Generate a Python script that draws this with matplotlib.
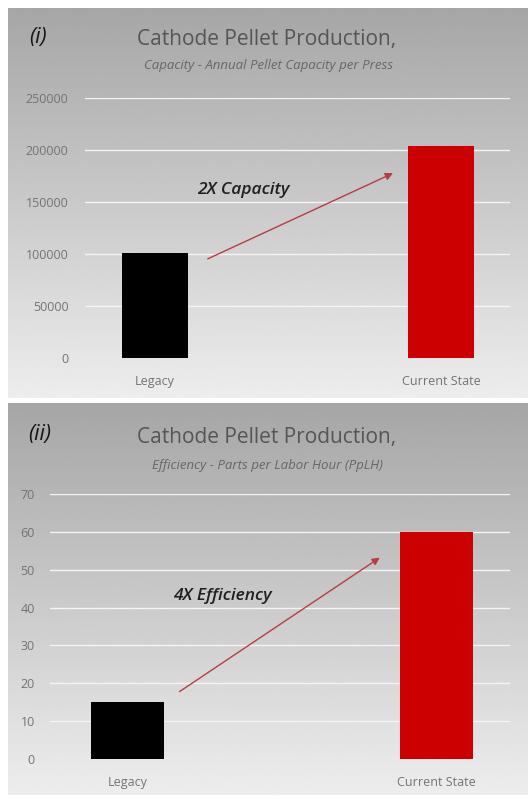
import numpy as np
import matplotlib
matplotlib.use("Agg")
import matplotlib.pyplot as plt

plt.rcParams['font.family'] = ['Open Sans', 'DejaVu Sans']

categories = ["Legacy", "Current State"]
capacity = [101000, 204000]
efficiency = [15, 60]
capacity_ticks = [0, 50000, 100000, 150000, 200000, 250000]
efficiency_ticks = [0, 10, 20, 30, 40, 50, 60, 70]
bar_colors = ["#000000", "#cc0000"]

W, H = 528, 800
fig = plt.figure(figsize=(W / 100, H / 100), dpi=100)
fig.patch.set_facecolor("white")


def fx(px):
    return px / W


def fy(py):
    return 1 - py / H


def panel_bg(top, bottom):
    bg = fig.add_axes([fx(8), fy(bottom), 1 - fx(8), fy(top) - fy(bottom)])
    grad = np.linspace(0.65, 0.93, 200).reshape(-1, 1)
    bg.imshow(grad, cmap="gray", vmin=0, vmax=1, aspect="auto",
              extent=[0, 1, 0, 1], origin="upper")
    bg.set_axis_off()
    return bg


def chart(rect, values, ticks, ylim, xlim, width, ypad):
    ax = fig.add_axes(rect)
    ax.set_facecolor("none")
    x = np.arange(len(categories))
    ax.bar(x, values, width=width, color=bar_colors, zorder=3)
    ax.set_xlim(*xlim)
    ax.set_ylim(*ylim)
    ax.set_yticks(ticks)
    ax.set_xticks(x)
    ax.set_xticklabels(categories)
    ax.yaxis.grid(True, color="#f4f4f4", linewidth=1.0, zorder=0)
    for s in ax.spines.values():
        s.set_visible(False)
    ax.tick_params(length=0, labelsize=9, labelcolor="#737373")
    ax.tick_params(axis="y", pad=ypad)
    ax.tick_params(axis="x", pad=12)
    return ax


arrow_style = dict(arrowstyle="-|>", color="#b83c44", lw=1.0, mutation_scale=11)

# panel (i)
panel_bg(8, 398)
ax1 = chart([fx(85), fy(358), fx(510) - fx(85), fy(98) - fy(358)],
            capacity, capacity_ticks, (0, 250000), (-0.245, 1.24), 0.23, 12)
fig.text(fx(38), fy(38), "(i)", fontsize=15.5, style="italic", color="#141414",
         ha="center", va="center")
fig.text(fx(267), fy(39), "Cathode Pellet Production,", fontsize=15,
         color="#555555", ha="center", va="center")
fig.text(fx(268), fy(66), "Capacity - Annual Pellet Capacity per Press",
         fontsize=9.5, style="italic", color="#666666", ha="center", va="center")
ax1.annotate("", xy=(0.84, 178800), xytext=(0.175, 94200), arrowprops=arrow_style)
ax1.text(0.31, 162000, "2X Capacity", fontsize=12.5, style="italic",
         weight="semibold", color="#1f1f1f", ha="center", va="center")

# panel (ii)
panel_bg(403, 795)
ax2 = chart([fx(50), fy(759), fx(510) - fx(50), fy(494) - fy(759)],
            efficiency, efficiency_ticks, (0, 70), (-0.253, 1.24), 0.237, 11)
fig.text(fx(40), fy(435), "(ii)", fontsize=15.5, style="italic", color="#141414",
         ha="center", va="center")
fig.text(fx(267), fy(438), "Cathode Pellet Production,", fontsize=15,
         color="#555555", ha="center", va="center")
fig.text(fx(267), fy(466), "Efficiency - Parts per Labor Hour (PpLH)",
         fontsize=9.5, style="italic", color="#666666", ha="center", va="center")
ax2.annotate("", xy=(0.825, 53.6), xytext=(0.16, 17.4), arrowprops=arrow_style)
ax2.text(0.305, 43, "4X Efficiency", fontsize=12.5, style="italic",
         weight="semibold", color="#1f1f1f", ha="center", va="center")

fig.savefig("out.png", dpi=100)
